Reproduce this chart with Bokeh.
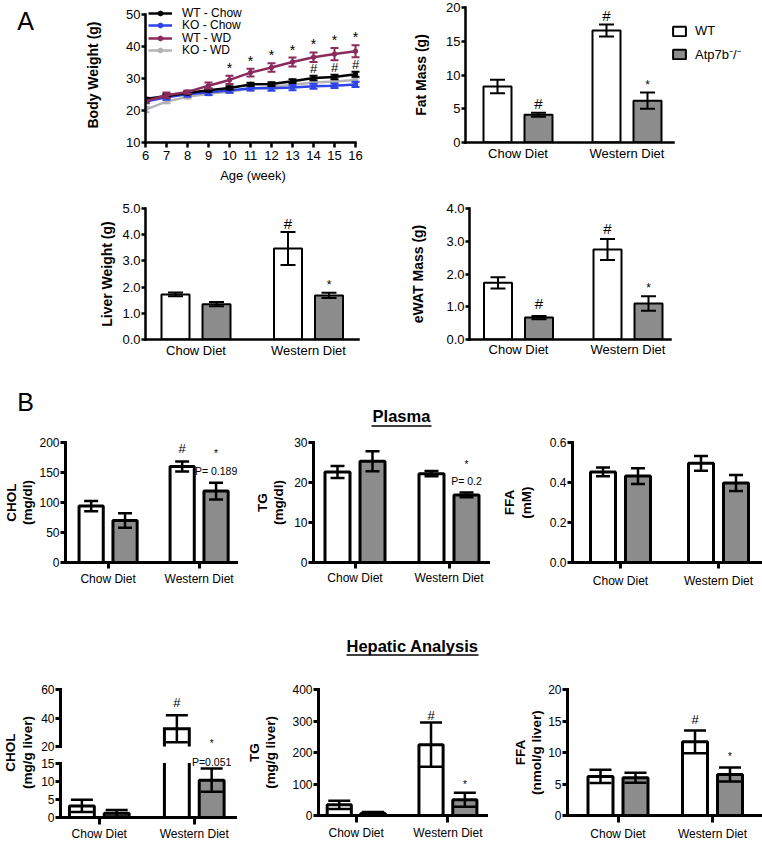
import math
from bokeh.plotting import figure
from bokeh.models import Range1d, FixedTicker, Legend, LegendItem, PrintfTickFormatter
from bokeh.layouts import row, column
from bokeh.embed import file_html
from bokeh.resources import INLINE
from bokeh.core.properties import value

FONT = "Liberation Sans"
KO_GREY = "#8c8c8c"

# ---------------------------------------------------------------- data
diets = ["Chow Diet", "Western Diet"]
genotypes = ["WT", "Atp7b\u207b/\u207b"]

weeks = [6, 7, 8, 9, 10, 11, 12, 13, 14, 15, 16]
wt_chow_bw = [23.6, 24.6, 25.5, 26.4, 27.1, 28.2, 28.3, 29.2, 30.2, 30.5, 31.4]
wt_chow_bw_err = [0.4, 0.5, 0.5, 0.5, 0.5, 0.5, 0.6, 0.6, 0.7, 0.7, 0.8]
ko_chow_bw = [22.8, 24.2, 25.1, 25.7, 26.3, 27.0, 27.0, 27.2, 27.6, 27.8, 28.2]
ko_chow_bw_err = [0.5, 0.8, 0.8, 0.8, 0.7, 0.7, 0.8, 0.8, 0.8, 0.7, 0.8]
wt_wd_bw = [22.9, 24.8, 25.8, 27.8, 29.6, 31.9, 33.5, 35.2, 36.7, 37.7, 38.6]
wt_wd_bw_err = [0.5, 0.9, 0.5, 1.0, 1.3, 1.2, 1.3, 1.4, 1.5, 1.9, 1.9]
ko_wd_bw = [20.3, 22.8, 24.3, 25.3, 26.0, 26.8, 27.5, 28.1, 28.8, 29.1, 29.6]
ko_wd_bw_err = [0.8, 0.5, 0.5, 0.5, 0.5, 0.5, 0.5, 0.5, 0.6, 0.6, 0.7]
bw_series_names = ["WT - Chow", "KO - Chow", "WT - WD", "KO - WD"]
bw_star_weeks = [10, 11, 12, 13, 14, 15, 16]
bw_hash_weeks = [14, 15, 16]

fat_wt = [8.3, 16.6]
fat_wt_err = [1.0, 0.9]
fat_ko = [4.1, 6.2]
fat_ko_err = [0.3, 1.2]

liver_wt = [1.72, 3.47]
liver_wt_err = [0.07, 0.63]
liver_ko = [1.35, 1.68]
liver_ko_err = [0.08, 0.10]

ewat_wt = [1.73, 2.75]
ewat_wt_err = [0.17, 0.32]
ewat_ko = [0.67, 1.10]
ewat_ko_err = [0.05, 0.22]

pchol_wt = [94, 160]
pchol_wt_err = [8.5, 8.5]
pchol_ko = [70, 119]
pchol_ko_err = [12, 14]

ptg_wt = [22.6, 22.2]
ptg_wt_err = [1.5, 0.65]
ptg_ko = [25.3, 16.9]
ptg_ko_err = [2.5, 0.6]

pffa_wt = [0.453, 0.496]
pffa_wt_err = [0.022, 0.037]
pffa_ko = [0.432, 0.398]
pffa_ko_err = [0.039, 0.04]

hchol_wt = [3.2, 32.5]
hchol_wt_err = [1.7, 9.5]
hchol_ko = [1.2, 10.3]
hchol_ko_err = [0.9, 3.2]
hchol_break = (15, 20)

htg_wt = [34, 225]
htg_wt_err = [13, 70]
htg_ko = [7, 50]
htg_ko_err = [4, 22]

hffa_wt = [6.2, 11.7]
hffa_wt_err = [1.05, 1.8]
hffa_ko = [6.0, 6.5]
hffa_ko_err = [0.8, 1.1]

# ---------------------------------------------------------------- styles
TOP = dict(tick_px=13, axis_lw=2.5, bar_lw=2, off=20.5, bw=28, cap=15, eb_lw=2,
           ytick_out=4, ystand=1)
BOT = dict(tick_px=12, axis_lw=3, bar_lw=3, off=17.5, bw=25, cap=14, eb_lw=2.5,
           ytick_out=5, ystand=1)
BOTH = dict(BOT, cap=22)


def new_fig(L, R, T, B, fl, fr, ft, fb, xr, yr, **kw):
    p = figure(width=R - L, height=B - T, x_range=xr, y_range=yr,
               min_border_left=fl - L, min_border_right=R - fr,
               min_border_top=ft - T, min_border_bottom=B - fb,
               toolbar_location=None, output_backend="svg", **kw)
    p.outline_line_color = None
    p.background_fill_color = None
    p.border_fill_color = None
    p.grid.visible = False
    return p


def style_axes(p, st, xtick_out=0, xstand=3):
    for ax in p.axis:
        ax.axis_line_width = st["axis_lw"]
        ax.axis_line_color = "black"
        ax.axis_line_cap = "square"
        ax.major_tick_line_width = st["axis_lw"]
        ax.major_tick_line_color = "black"
        ax.major_tick_in = 0
        ax.minor_tick_line_color = None
        ax.major_label_text_font = FONT
        ax.major_label_text_font_size = f"{st['tick_px']}px"
        ax.major_label_text_color = "black"
    for ax in p.yaxis:
        ax.major_tick_out = st["ytick_out"]
        ax.major_label_standoff = st["ystand"]
    for ax in p.xaxis:
        ax.major_tick_out = xtick_out
        ax.major_label_standoff = xstand
        if xtick_out == 0:
            ax.major_tick_line_color = None


def set_ylabel(p, txt, size, standoff):
    for ax in p.yaxis:
        ax.axis_label = txt
        ax.axis_label_text_font = FONT
        ax.axis_label_text_font_size = f"{size}px"
        ax.axis_label_text_font_style = "bold"
        ax.axis_label_text_color = "black"
        ax.axis_label_standoff = standoff
        ax.axis_label_text_line_height = 1.1


def errbars(p, x, m, e, cap, lw, color):
    if not x:
        return
    lo = [a - b for a, b in zip(m, e)]
    hi = [a + b for a, b in zip(m, e)]
    p.segment(x0=x, y0=lo, x1=x, y1=hi, line_width=lw, line_color=color)
    p.scatter(x=list(x) + list(x), y=lo + hi, marker="dash", size=cap,
              line_width=lw, line_color=color)


def annotate(p, x, y, txt, size, yoff):
    p.text(x=[x], y=[y], text=[txt], text_font=value(FONT),
           text_font_size=f"{size}px", text_align="center",
           text_baseline="middle", y_offset=yoff, text_color="black")


def set_cat_axis(p, xs, xend_data):
    p.xaxis.bounds = (xs, xend_data)
    p.xaxis.ticker = FixedTicker(ticks=list(range(len(diets))))
    p.xaxis.major_label_overrides = {i: d for i, d in enumerate(diets)}


def one_item_legend(label, renderers, vx, vy, glyph_w, glyph_h, font_px, standoff):
    return Legend(items=[LegendItem(label=label, renderers=renderers)],
                  location=(vx, vy), glyph_width=glyph_w, glyph_height=glyph_h,
                  label_height=glyph_h, spacing=0, padding=0, margin=0,
                  label_standoff=standoff, border_line_color=None,
                  background_fill_alpha=0, label_text_font=FONT,
                  label_text_font_size=f"{font_px}px", label_text_color="black")


def bar_panel(L, R, T, B, fl, fr, ft, fb, g0, g1, axis_end, y0, y1, yticks, fmt,
              wt, wt_err, ko, ko_err, st, ann, ylabel, ylab_px, ylab_so,
              xtick_out=0, xstand=3):
    sp = g1 - g0
    xs, xe = (fl - g0) / sp, (fr - g0) / sp
    p = new_fig(L, R, T, B, fl, fr, ft, fb, Range1d(xs, xe), Range1d(y0, y1))
    style_axes(p, st, xtick_out=xtick_out, xstand=xstand)
    set_cat_axis(p, xs, (axis_end - g0) / sp)
    set_ylabel(p, ylabel, ylab_px, ylab_so)
    p.yaxis.ticker = FixedTicker(ticks=yticks)
    if fmt:
        p.yaxis.formatter = PrintfTickFormatter(format=fmt)
    off, bw = st["off"] / sp, st["bw"] / sp
    idx = list(range(len(diets)))
    xw = [i - off for i in idx]
    xk = [i + off for i in idx]
    r_wt = p.vbar(x=xw, top=wt, bottom=0, width=bw, fill_color="white",
                  line_color="black", line_width=st["bar_lw"])
    r_ko = p.vbar(x=xk, top=ko, bottom=0, width=bw, fill_color=KO_GREY,
                  line_color="black", line_width=st["bar_lw"])
    errbars(p, xw, wt, wt_err, st["cap"], st["eb_lw"], "black")
    errbars(p, xk, ko, ko_err, st["cap"], st["eb_lw"], "black")
    for ser, i, txt, size, yoff in ann:
        if ser == "wt":
            annotate(p, xw[i], wt[i] + wt_err[i], txt, size, yoff)
        else:
            annotate(p, xk[i], ko[i] + ko_err[i], txt, size, yoff)
    return p, r_wt, r_ko


def text_fig(L, R, T, B, items, lines=()):
    w, h = R - L, B - T
    p = figure(width=w, height=h, x_range=Range1d(0, w), y_range=Range1d(0, h),
               x_axis_type=None, y_axis_type=None, min_border=0,
               toolbar_location=None, output_backend="svg")
    p.outline_line_color = None
    p.background_fill_color = None
    p.border_fill_color = None
    for (x, y, txt, size, style) in items:
        p.text(x=[x - L], y=[h - (y - T)], text=[txt], text_font=value(FONT),
               text_font_size=f"{size}px", text_font_style=style,
               text_align="center", text_baseline="middle", text_color="black")
    for (x0, x1, y, lw) in lines:
        p.segment(x0=[x0 - L], y0=[h - (y - T)], x1=[x1 - L], y1=[h - (y - T)],
                  line_width=lw, line_color="black")
    return p


# ---------------------------------------------------------------- row 1
LA = text_fig(0, 60, 0, 192, [(25, 19, "A", 25, "normal")])

px_week = 21.0
BW_AXT, BW_FB = 8, 148               # page y of the 50 tick and of the x axis
bw_px = (BW_FB - BW_AXT) / (50 - 10)  # px per gram
bw = new_fig(60, 405, 0, 192, 145, 360, 0, BW_FB,
             Range1d(weeks[0], weeks[0] + (360 - 145) / px_week),
             Range1d(10, 50 + BW_AXT / bw_px))
style_axes(bw, TOP, xtick_out=5, xstand=3)
bw.xaxis.bounds = (weeks[0], weeks[-1])
bw.yaxis.bounds = (10, 50)
bw.xaxis.ticker = FixedTicker(ticks=weeks)
bw.yaxis.ticker = FixedTicker(ticks=[10, 20, 30, 40, 50])
set_ylabel(bw, "Body Weight (g)", 14, 22)
bw.xaxis.axis_label = "Age (week)"
bw.xaxis.axis_label_text_font = FONT
bw.xaxis.axis_label_text_font_size = "13px"
bw.xaxis.axis_label_text_font_style = "normal"
bw.xaxis.axis_label_text_color = "black"
bw.xaxis.axis_label_standoff = 5

series = {
    "KO - WD": (ko_wd_bw, ko_wd_bw_err, "#b3b3b3"),
    "KO - Chow": (ko_chow_bw, ko_chow_bw_err, "#2f44e8"),
    "WT - Chow": (wt_chow_bw, wt_chow_bw_err, "black"),
    "WT - WD": (wt_wd_bw, wt_wd_bw_err, "#8b2a5c"),
}
rend = {}
for name in ["KO - WD", "KO - Chow", "WT - Chow", "WT - WD"]:
    m, e, c = series[name]
    errbars(bw, weeks, m, e, 8, 2, c)
    lr = bw.line(weeks, m, line_width=2.5, line_color=c)
    cr = bw.scatter(weeks, m, size=4.5, color=c)
    rend[name] = [lr, cr]
for w in bw_star_weeks:
    i = weeks.index(w)
    annotate(bw, w, wt_wd_bw[i] + wt_wd_bw_err[i], "*", 14, -8)
for w in bw_hash_weeks:
    i = weeks.index(w)
    annotate(bw, w, wt_chow_bw[i] + wt_chow_bw_err[i], "#", 13, -7)
# legend rows (page y of each row centre)
leg_rows = [12.0, 24.5, 37.0, 49.5]
LEG_H12 = 27.5
for cy, name in zip(leg_rows, bw_series_names):
    bw.add_layout(one_item_legend(name, rend[name], 3, (BW_FB - cy) - LEG_H12 / 2,
                                  24, 12, 12, 10))

FAT_FB = 142
fat, fr_wt, fr_ko = bar_panel(405, 762, 0, 192, 465, 758, 7, FAT_FB, 517.5, 626.5, 673,
                              0, 20, [0, 5, 10, 15, 20], None,
                              fat_wt, fat_wt_err, fat_ko, fat_ko_err, TOP,
                              [("ko", 0, "#", 15, -9), ("wt", 1, "#", 15, -9),
                               ("ko", 1, "*", 12, -8)],
                              "Fat Mass (g)", 14, 14, xstand=3)
LEG_H13 = 28
for cy, lab, r in zip([24, 49], genotypes, [fr_wt, fr_ko]):
    fat.add_layout(one_item_legend(lab, [r], 206, (FAT_FB - cy) - LEG_H13 / 2,
                                   16, 12, 13, 8))

# ---------------------------------------------------------------- row 2
liver, _, _ = bar_panel(0, 405, 192, 375, 145, 380, 208, 345, 195.5, 308, 358,
                        0, 5, [0, 1, 2, 3, 4, 5], "%.1f",
                        liver_wt, liver_wt_err, liver_ko, liver_ko_err, TOP,
                        [("wt", 1, "#", 15, -9), ("ko", 1, "*", 12, -8)],
                        "Liver Weight (g)", 14, 4, xstand=3)
ewat, _, _ = bar_panel(405, 762, 192, 375, 469, 758, 203, 339, 518, 627.5, 670,
                       0, 4, [0, 1, 2, 3, 4], "%.1f",
                       ewat_wt, ewat_wt_err, ewat_ko, ewat_ko_err, TOP,
                       [("ko", 0, "#", 15, -12), ("wt", 1, "#", 15, -10),
                        ("ko", 1, "*", 12, -8)],
                       "eWAT Mass (g)", 14, 17, xstand=2)

# ---------------------------------------------------------------- header B
H1 = text_fig(0, 762, 375, 428, [(25, 401, "B", 25, "normal"),
                                 (401, 415.5, "Plasma", 16.5, "bold")],
              lines=[(371, 431, 425.5, 1.5)])

# ---------------------------------------------------------------- row 4 (plasma)
pchol, _, _ = bar_panel(0, 250, 428, 598, 59, 248, 437, 562, 103, 197, 236,
                        0, 200, [0, 50, 100, 150, 200], None,
                        pchol_wt, pchol_wt_err, pchol_ko, pchol_ko_err, BOT,
                        [("wt", 1, "#", 13, -13), ("ko", 1, "*", 10, -29),
                         ("ko", 1, "P= 0.189", 10.5, -12)],
                        "CHOL\n(mg/dl)", 13.5, 1, xtick_out=6, xstand=3)
ptg, _, _ = bar_panel(250, 495, 428, 598, 313, 493, 440, 572, 354.5, 448.5, 488,
                      0, 30, [0, 10, 20, 30], None,
                      ptg_wt, ptg_wt_err, ptg_ko, ptg_ko_err, BOT,
                      [("ko", 1, "*", 10, -28), ("ko", 1, "P= 0.2", 10.5, -12)],
                      "TG\n(mg/dl)", 13.5, 5, xtick_out=6, xstand=2)
pffa, _, _ = bar_panel(495, 762, 428, 598, 572, 760, 442, 570, 620, 718, 760,
                       0, 0.6, [0, 0.2, 0.4, 0.6], "%.1f",
                       pffa_wt, pffa_wt_err, pffa_ko, pffa_ko_err, BOT, [],
                       "FFA\n(mM)", 13.5, 13, xtick_out=6, xstand=5)

# ---------------------------------------------------------------- header hepatic
H2 = text_fig(0, 762, 598, 668, [(412, 645, "Hepatic Analysis", 16.5, "bold")],
              lines=[(346, 478, 654.5, 1.5)])

# ---------------------------------------------------------------- row 6 (hepatic)
st = BOTH
# axis-title strip for the broken CHOL axis
hl = figure(width=38, height=175, x_range=Range1d(0, 1), y_range=Range1d(0, 1),
            min_border_left=37, min_border_right=0, min_border_top=21,
            min_border_bottom=23, x_axis_type=None, toolbar_location=None,
            output_backend="svg")
hl.outline_line_color = None
hl.background_fill_color = None
hl.border_fill_color = None
hl.grid.visible = False
hl.yaxis.ticker = FixedTicker(ticks=[])
hl.yaxis.axis_line_color = None
hl.yaxis.major_tick_line_color = None
hl.yaxis.minor_tick_line_color = None
hl.yaxis.major_tick_out = 0
hl.yaxis.major_label_standoff = 0
set_ylabel(hl, "CHOL\n(mg/g liver)", 13.5, 4)

cL, cR, cfl, cfr = 38, 243, 59, 241
cg0, cg1 = 98, 193.5
csp = cg1 - cg0
cxs, cxe = (cfl - cg0) / csp, (cfr - cg0) / csp
coff, cbw = st["off"] / csp, st["bw"] / csp
cxw = [i - coff for i in range(len(diets))]
cxk = [i + coff for i in range(len(diets))]
brk_lo, brk_hi = hchol_break

SPLIT = 754                            # page y where the two segments meet
TOP_PX = (746 - 689) / (60 - brk_hi)   # px per unit, upper segment
BOT_PX = (820 - 763) / brk_lo          # px per unit, lower segment

# upper segment (20-60)
hct = new_fig(cL, cR, 668, SPLIT, cfl, cfr, 689, SPLIT, Range1d(cxs, cxe),
              Range1d(brk_hi - (SPLIT - 746) / TOP_PX, 60), x_axis_type=None)
style_axes(hct, st)
hct.yaxis.bounds = (brk_hi, 60)
hct.yaxis.ticker = FixedTicker(ticks=[20, 40, 60])
for xs_, vals, errs, fill in ((cxw, hchol_wt, hchol_wt_err, "white"),
                              (cxk, hchol_ko, hchol_ko_err, KO_GREY)):
    sel = [k for k, v in enumerate(vals) if v > brk_hi]
    if sel:
        hct.vbar(x=[xs_[k] for k in sel], top=[vals[k] for k in sel], bottom=brk_hi,
                 width=cbw, fill_color=fill, line_color=None)
        hct.multi_line(
            xs=[[xs_[k] - cbw / 2, xs_[k] - cbw / 2, xs_[k] + cbw / 2, xs_[k] + cbw / 2]
                for k in sel],
            ys=[[brk_hi, vals[k], vals[k], brk_hi] for k in sel],
            line_width=st["bar_lw"], line_color="black", line_join="miter")
        errbars(hct, [xs_[k] for k in sel], [vals[k] for k in sel],
                [errs[k] for k in sel], st["cap"], st["eb_lw"], "black")
annotate(hct, cxw[1], hchol_wt[1] + hchol_wt_err[1], "#", 13, -13)
annotate(hct, cxk[1], brk_hi, "*", 10, -3)

# lower segment (0-15)
bot_top = (820 - SPLIT) / BOT_PX
hcb = new_fig(cL, cR, SPLIT, 843, cfl, cfr, SPLIT, 820, Range1d(cxs, cxe),
              Range1d(0, bot_top))
style_axes(hcb, st, xtick_out=7, xstand=2)
hcb.yaxis.bounds = (0, brk_lo)
hcb.yaxis.ticker = FixedTicker(ticks=[0, 5, 10, 15])
set_cat_axis(hcb, cxs, (235 - cg0) / csp)
for xs_, vals, errs, fill in ((cxw, hchol_wt, hchol_wt_err, "white"),
                              (cxk, hchol_ko, hchol_ko_err, KO_GREY)):
    below = [k for k, v in enumerate(vals) if v <= brk_lo]
    above = [k for k, v in enumerate(vals) if v > brk_lo]
    if below:
        hcb.vbar(x=[xs_[k] for k in below], top=[vals[k] for k in below], bottom=0,
                 width=cbw, fill_color=fill, line_color="black", line_width=st["bar_lw"])
    if above:
        hcb.vbar(x=[xs_[k] for k in above], top=brk_lo, bottom=0, width=cbw,
                 fill_color=fill, line_color=None)
        sx = [xs_[k] - cbw / 2 for k in above] + [xs_[k] + cbw / 2 for k in above]
        hcb.segment(x0=sx, y0=[0] * len(sx), x1=sx, y1=[brk_lo] * len(sx),
                    line_width=st["bar_lw"], line_color="black")
    vis = [k for k, v in enumerate(vals) if v - errs[k] < bot_top]
    errbars(hcb, [xs_[k] for k in vis], [vals[k] for k in vis],
            [errs[k] for k in vis], st["cap"], st["eb_lw"], "black")
annotate(hcb, cxk[1], hchol_ko[1] + hchol_ko_err[1], "P=0.051", 10.5, -7)

htg, _, _ = bar_panel(243, 490, 668, 843, 312, 488, 689, 819, 351, 446, 486,
                      0, 400, [0, 100, 200, 300, 400], None,
                      htg_wt, htg_wt_err, htg_ko, htg_ko_err, BOTH,
                      [("wt", 1, "#", 13, -7), ("ko", 1, "*", 10, -8)],
                      "TG\n(mg/g liver)", 13.5, 11, xtick_out=7, xstand=3)
hffa, _, _ = bar_panel(490, 762, 668, 843, 567, 760, 686, 817, 617.5, 712, 760,
                       0, 20, [0, 5, 10, 15, 20], None,
                       hffa_wt, hffa_wt_err, hffa_ko, hffa_ko_err, BOTH,
                       [("wt", 1, "#", 13, -11), ("ko", 1, "*", 10, -11)],
                       "FFA\n(nmol/g liver)", 13.5, 1, xtick_out=7, xstand=4)

page = column(
    row(LA, bw, fat),
    row(liver, ewat),
    H1,
    row(pchol, ptg, pffa),
    H2,
    row(hl, column(hct, hcb), htg, hffa),
)

open("out.html", "w").write(file_html(page, INLINE))
